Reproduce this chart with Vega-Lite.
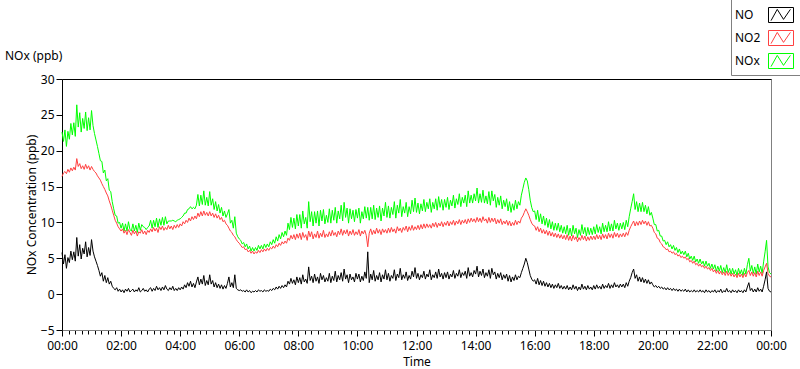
{
"$schema": "https://vega.github.io/schema/vega-lite/v6.json",
"width": 709,
"height": 251,
"autosize": {"type": "none"},
"padding": {"left": 62, "top": 79, "right": 29, "bottom": 39},
"background": "white",
"title": {"text": "NOx (ppb)", "anchor": "start", "frame": "group", "dx": -57, "dy": 77, "offset": 12, "fontSize": 12, "fontWeight": "normal", "font": "Noto Sans", "color": "#000000"},
"data": {"values": [
{"t":0,"NO":5.8,"NO2":16.4,"NOx":22.6},{"t":3,"NO":4.2,"NO2":16.9,"NOx":21.3},{"t":6,"NO":5.5,"NO2":17.1,"NOx":22.9},{"t":9,"NO":3.6,"NO2":16.8,"NOx":20.6},{"t":12,"NO":5.1,"NO2":17.4,"NOx":22.7},{"t":15,"NO":4.4,"NO2":17.0,"NOx":21.6},{"t":18,"NO":6.0,"NO2":17.6,"NOx":23.8},{"t":21,"NO":4.8,"NO2":17.2,"NOx":22.2},{"t":24,"NO":5.9,"NO2":17.7,"NOx":23.9},{"t":27,"NO":4.6,"NO2":17.3,"NOx":22.0},
{"t":30,"NO":7.9,"NO2":18.9,"NOx":26.4},{"t":33,"NO":5.3,"NO2":17.8,"NOx":23.3},{"t":36,"NO":6.9,"NO2":18.2,"NOx":25.3},{"t":39,"NO":4.9,"NO2":17.5,"NOx":22.6},{"t":42,"NO":6.4,"NO2":17.9,"NOx":24.5},{"t":45,"NO":5.6,"NO2":17.4,"NOx":23.1},{"t":48,"NO":7.3,"NO2":18.1,"NOx":25.4},{"t":51,"NO":5.2,"NO2":17.5,"NOx":22.8},{"t":54,"NO":6.5,"NO2":17.9,"NOx":24.6},{"t":57,"NO":5.4,"NO2":17.3,"NOx":22.9},
{"t":60,"NO":7.6,"NO2":17.8,"NOx":25.6},{"t":63,"NO":6.0,"NO2":17.4,"NOx":23.5},{"t":66,"NO":5.2,"NO2":17.1,"NOx":22.4},{"t":69,"NO":4.6,"NO2":16.9,"NOx":21.5},{"t":72,"NO":4.0,"NO2":16.5,"NOx":20.6},{"t":75,"NO":3.3,"NO2":16.2,"NOx":19.6},{"t":78,"NO":2.5,"NO2":15.9,"NOx":18.6},{"t":81,"NO":3.0,"NO2":15.4,"NOx":18.5},{"t":84,"NO":1.8,"NO2":15.0,"NOx":16.9},{"t":87,"NO":2.6,"NO2":14.6,"NOx":17.3},
{"t":90,"NO":1.6,"NO2":14.1,"NOx":15.8},{"t":93,"NO":2.3,"NO2":13.7,"NOx":16.1},{"t":96,"NO":1.4,"NO2":13.0,"NOx":14.5},{"t":99,"NO":1.8,"NO2":12.4,"NOx":14.3},{"t":102,"NO":1.1,"NO2":11.7,"NOx":12.9},{"t":105,"NO":0.8,"NO2":11.0,"NOx":11.9},{"t":108,"NO":0.6,"NO2":10.3,"NOx":11.0},{"t":111,"NO":0.9,"NO2":9.9,"NOx":10.9},{"t":114,"NO":0.4,"NO2":9.4,"NOx":9.9},{"t":117,"NO":0.7,"NO2":9.1,"NOx":10.0},
{"t":120,"NO":0.3,"NO2":8.8,"NOx":9.2},{"t":123,"NO":0.6,"NO2":9.1,"NOx":9.9},{"t":126,"NO":0.2,"NO2":8.5,"NOx":8.8},{"t":129,"NO":0.7,"NO2":8.9,"NOx":9.8},{"t":132,"NO":0.4,"NO2":8.3,"NOx":8.8},{"t":135,"NO":0.8,"NO2":9.0,"NOx":10.1},{"t":138,"NO":0.3,"NO2":8.6,"NOx":9.0},{"t":141,"NO":0.5,"NO2":8.2,"NOx":8.8},{"t":144,"NO":0.7,"NO2":8.9,"NOx":9.8},{"t":147,"NO":0.3,"NO2":8.4,"NOx":8.8},
{"t":150,"NO":0.6,"NO2":8.8,"NOx":9.6},{"t":153,"NO":0.4,"NO2":8.1,"NOx":8.6},{"t":156,"NO":0.9,"NO2":8.7,"NOx":9.9},{"t":159,"NO":0.3,"NO2":8.5,"NOx":8.9},{"t":162,"NO":0.5,"NO2":9.0,"NOx":9.7},{"t":165,"NO":0.8,"NO2":8.4,"NOx":9.4},{"t":168,"NO":0.4,"NO2":8.8,"NOx":9.3},{"t":171,"NO":0.6,"NO2":8.3,"NOx":9.0},{"t":174,"NO":0.3,"NO2":8.9,"NOx":9.3},{"t":177,"NO":0.7,"NO2":8.6,"NOx":9.5},
{"t":180,"NO":0.9,"NO2":9.1,"NOx":10.3},{"t":183,"NO":0.4,"NO2":8.7,"NOx":9.2},{"t":186,"NO":0.8,"NO2":9.3,"NOx":10.3},{"t":189,"NO":0.5,"NO2":8.8,"NOx":9.4},{"t":192,"NO":1.1,"NO2":9.2,"NOx":10.6},{"t":195,"NO":0.6,"NO2":8.6,"NOx":9.3},{"t":198,"NO":0.9,"NO2":9.4,"NOx":10.5},{"t":201,"NO":0.5,"NO2":9.0,"NOx":9.6},{"t":204,"NO":1.0,"NO2":9.5,"NOx":10.7},{"t":207,"NO":0.6,"NO2":8.9,"NOx":9.6},
{"t":210,"NO":1.2,"NO2":9.3,"NOx":10.8},{"t":213,"NO":0.7,"NO2":9.0,"NOx":9.8},{"t":216,"NO":0.5,"NO2":9.6,"NOx":10.2},{"t":219,"NO":0.9,"NO2":9.1,"NOx":10.2},{"t":222,"NO":0.6,"NO2":9.5,"NOx":10.2},{"t":225,"NO":1.1,"NO2":9.0,"NOx":10.3},{"t":228,"NO":0.5,"NO2":9.6,"NOx":10.2},{"t":231,"NO":0.8,"NO2":9.2,"NOx":10.1},{"t":234,"NO":0.5,"NO2":9.7,"NOx":10.3},{"t":237,"NO":0.9,"NO2":9.3,"NOx":10.4},
{"t":240,"NO":0.6,"NO2":9.8,"NOx":10.5},{"t":243,"NO":1.0,"NO2":9.5,"NOx":10.7},{"t":246,"NO":0.7,"NO2":10.1,"NOx":10.9},{"t":249,"NO":1.3,"NO2":9.8,"NOx":11.3},{"t":252,"NO":0.9,"NO2":10.3,"NOx":11.3},{"t":255,"NO":1.6,"NO2":10.0,"NOx":11.8},{"t":258,"NO":1.1,"NO2":10.6,"NOx":11.9},{"t":261,"NO":1.8,"NO2":10.2,"NOx":12.2},{"t":264,"NO":1.0,"NO2":10.8,"NOx":11.9},{"t":267,"NO":1.5,"NO2":10.4,"NOx":12.1},
{"t":270,"NO":0.9,"NO2":10.9,"NOx":11.9},{"t":273,"NO":1.7,"NO2":10.5,"NOx":12.4},{"t":276,"NO":2.4,"NO2":11.3,"NOx":13.9},{"t":279,"NO":1.3,"NO2":10.8,"NOx":12.3},{"t":282,"NO":2.1,"NO2":11.5,"NOx":13.8},{"t":285,"NO":1.4,"NO2":10.9,"NOx":12.5},{"t":288,"NO":2.6,"NO2":11.6,"NOx":14.4},{"t":291,"NO":1.2,"NO2":11.0,"NOx":12.4},{"t":294,"NO":1.9,"NO2":11.4,"NOx":13.5},{"t":297,"NO":1.3,"NO2":10.9,"NOx":12.3},
{"t":300,"NO":2.7,"NO2":11.5,"NOx":14.3},{"t":303,"NO":1.4,"NO2":10.9,"NOx":12.4},{"t":306,"NO":1.9,"NO2":11.3,"NOx":13.3},{"t":309,"NO":1.0,"NO2":10.7,"NOx":11.8},{"t":312,"NO":1.6,"NO2":11.2,"NOx":12.9},{"t":315,"NO":0.9,"NO2":10.6,"NOx":11.6},{"t":318,"NO":1.4,"NO2":11.0,"NOx":12.5},{"t":321,"NO":0.8,"NO2":10.4,"NOx":11.3},{"t":324,"NO":1.3,"NO2":10.7,"NOx":12.1},{"t":327,"NO":0.7,"NO2":10.1,"NOx":10.9},
{"t":330,"NO":1.2,"NO2":10.3,"NOx":11.6},{"t":333,"NO":0.8,"NO2":9.8,"NOx":10.7},{"t":336,"NO":1.5,"NO2":9.6,"NOx":11.2},{"t":339,"NO":2.4,"NO2":9.2,"NOx":11.8},{"t":342,"NO":1.0,"NO2":8.8,"NOx":9.9},{"t":345,"NO":1.6,"NO2":8.6,"NOx":10.3},{"t":348,"NO":0.9,"NO2":8.2,"NOx":9.2},{"t":351,"NO":2.7,"NO2":8.0,"NOx":10.8},{"t":354,"NO":0.8,"NO2":7.6,"NOx":8.5},{"t":357,"NO":0.6,"NO2":7.3,"NOx":8.0},
{"t":360,"NO":0.5,"NO2":7.1,"NOx":7.7},{"t":363,"NO":0.6,"NO2":6.8,"NOx":7.5},{"t":366,"NO":0.4,"NO2":6.5,"NOx":7.0},{"t":369,"NO":0.5,"NO2":6.6,"NOx":7.2},{"t":372,"NO":0.3,"NO2":6.2,"NOx":6.6},{"t":375,"NO":0.6,"NO2":6.3,"NOx":7.0},{"t":378,"NO":0.3,"NO2":5.9,"NOx":6.3},{"t":381,"NO":0.5,"NO2":6.1,"NOx":6.7},{"t":384,"NO":0.2,"NO2":5.7,"NOx":6.0},{"t":387,"NO":0.4,"NO2":6.0,"NOx":6.5},
{"t":390,"NO":0.3,"NO2":5.6,"NOx":6.0},{"t":393,"NO":0.5,"NO2":5.9,"NOx":6.5},{"t":396,"NO":0.3,"NO2":5.7,"NOx":6.1},{"t":399,"NO":0.6,"NO2":6.1,"NOx":6.8},{"t":402,"NO":0.4,"NO2":5.8,"NOx":6.3},{"t":405,"NO":0.5,"NO2":6.2,"NOx":6.8},{"t":408,"NO":0.3,"NO2":5.9,"NOx":6.3},{"t":411,"NO":0.6,"NO2":6.3,"NOx":7.0},{"t":414,"NO":0.4,"NO2":6.0,"NOx":6.5},{"t":417,"NO":0.5,"NO2":6.4,"NOx":7.0},
{"t":420,"NO":0.4,"NO2":6.1,"NOx":6.6},{"t":423,"NO":0.7,"NO2":6.5,"NOx":7.3},{"t":426,"NO":0.5,"NO2":6.3,"NOx":6.9},{"t":429,"NO":0.8,"NO2":6.7,"NOx":7.6},{"t":432,"NO":0.6,"NO2":6.4,"NOx":7.1},{"t":435,"NO":1.0,"NO2":6.9,"NOx":8.0},{"t":438,"NO":0.7,"NO2":6.6,"NOx":7.4},{"t":441,"NO":1.1,"NO2":7.1,"NOx":8.3},{"t":444,"NO":0.8,"NO2":6.8,"NOx":7.7},{"t":447,"NO":1.2,"NO2":7.3,"NOx":8.6},
{"t":450,"NO":0.9,"NO2":7.0,"NOx":8.0},{"t":453,"NO":1.3,"NO2":7.4,"NOx":8.8},{"t":456,"NO":1.0,"NO2":7.1,"NOx":8.2},{"t":459,"NO":1.8,"NO2":7.8,"NOx":9.9},{"t":462,"NO":1.4,"NO2":7.5,"NOx":9.0},{"t":465,"NO":2.2,"NO2":8.2,"NOx":10.7},{"t":468,"NO":1.5,"NO2":7.7,"NOx":9.3},{"t":471,"NO":2.0,"NO2":8.3,"NOx":10.6},{"t":474,"NO":1.3,"NO2":7.6,"NOx":9.1},{"t":477,"NO":2.4,"NO2":8.4,"NOx":11.1},
{"t":480,"NO":1.6,"NO2":7.8,"NOx":9.5},{"t":483,"NO":2.3,"NO2":8.5,"NOx":11.1},{"t":486,"NO":1.4,"NO2":7.6,"NOx":9.2},{"t":489,"NO":2.7,"NO2":8.6,"NOx":11.6},{"t":492,"NO":1.7,"NO2":7.9,"NOx":9.8},{"t":495,"NO":2.1,"NO2":8.3,"NOx":10.7},{"t":498,"NO":1.5,"NO2":7.5,"NOx":9.2},{"t":501,"NO":3.8,"NO2":8.8,"NOx":12.9},{"t":504,"NO":1.9,"NO2":8.0,"NOx":10.1},{"t":507,"NO":2.5,"NO2":8.7,"NOx":11.5},
{"t":510,"NO":1.6,"NO2":7.7,"NOx":9.5},{"t":513,"NO":2.8,"NO2":8.4,"NOx":11.5},{"t":516,"NO":1.8,"NO2":7.9,"NOx":9.9},{"t":519,"NO":2.4,"NO2":8.8,"NOx":11.6},{"t":522,"NO":1.5,"NO2":7.8,"NOx":9.5},{"t":525,"NO":2.9,"NO2":8.5,"NOx":11.7},{"t":528,"NO":2.0,"NO2":8.0,"NOx":10.2},{"t":531,"NO":2.6,"NO2":8.9,"NOx":11.8},{"t":534,"NO":1.7,"NO2":7.9,"NOx":9.8},{"t":537,"NO":2.3,"NO2":8.4,"NOx":11.0},
{"t":540,"NO":1.8,"NO2":8.0,"NOx":10.0},{"t":543,"NO":2.9,"NO2":8.7,"NOx":11.9},{"t":546,"NO":1.6,"NO2":8.1,"NOx":9.9},{"t":549,"NO":2.5,"NO2":8.9,"NOx":11.7},{"t":552,"NO":1.9,"NO2":8.2,"NOx":10.3},{"t":555,"NO":3.2,"NO2":8.6,"NOx":12.1},{"t":558,"NO":1.7,"NO2":8.0,"NOx":9.9},{"t":561,"NO":2.6,"NO2":8.8,"NOx":11.6},{"t":564,"NO":2.0,"NO2":8.3,"NOx":10.5},{"t":567,"NO":3.0,"NO2":9.1,"NOx":12.4},
{"t":570,"NO":1.8,"NO2":8.2,"NOx":10.2},{"t":573,"NO":3.5,"NO2":8.9,"NOx":12.8},{"t":576,"NO":2.1,"NO2":8.4,"NOx":10.7},{"t":579,"NO":2.7,"NO2":9.0,"NOx":12.0},{"t":582,"NO":1.6,"NO2":8.1,"NOx":9.9},{"t":585,"NO":2.8,"NO2":8.8,"NOx":11.9},{"t":588,"NO":2.0,"NO2":8.3,"NOx":10.5},{"t":591,"NO":2.4,"NO2":9.0,"NOx":11.7},{"t":594,"NO":1.7,"NO2":8.2,"NOx":10.1},{"t":597,"NO":2.9,"NO2":8.7,"NOx":11.8},
{"t":600,"NO":2.1,"NO2":8.3,"NOx":10.6},{"t":603,"NO":2.8,"NO2":9.0,"NOx":12.0},{"t":606,"NO":1.7,"NO2":8.1,"NOx":9.9},{"t":609,"NO":2.5,"NO2":8.8,"NOx":11.5},{"t":612,"NO":1.9,"NO2":8.4,"NOx":10.5},{"t":615,"NO":3.1,"NO2":8.9,"NOx":12.2},{"t":618,"NO":2.2,"NO2":8.2,"NOx":10.6},{"t":621,"NO":5.9,"NO2":6.6,"NOx":12.1},{"t":624,"NO":1.6,"NO2":8.5,"NOx":10.3},{"t":627,"NO":2.8,"NO2":9.1,"NOx":12.1},
{"t":630,"NO":2.0,"NO2":8.3,"NOx":10.5},{"t":633,"NO":3.3,"NO2":8.9,"NOx":12.4},{"t":636,"NO":1.8,"NO2":8.4,"NOx":10.4},{"t":639,"NO":2.6,"NO2":9.2,"NOx":12.0},{"t":642,"NO":2.0,"NO2":8.5,"NOx":10.7},{"t":645,"NO":3.0,"NO2":9.0,"NOx":12.3},{"t":648,"NO":1.7,"NO2":8.3,"NOx":10.2},{"t":651,"NO":2.7,"NO2":9.1,"NOx":12.0},{"t":654,"NO":2.1,"NO2":8.6,"NOx":10.9},{"t":657,"NO":3.4,"NO2":9.0,"NOx":12.8},
{"t":660,"NO":2.0,"NO2":8.5,"NOx":10.7},{"t":663,"NO":2.9,"NO2":9.2,"NOx":12.3},{"t":666,"NO":1.8,"NO2":8.6,"NOx":10.6},{"t":669,"NO":2.6,"NO2":9.3,"NOx":12.1},{"t":672,"NO":2.2,"NO2":8.7,"NOx":11.1},{"t":675,"NO":3.4,"NO2":9.1,"NOx":12.9},{"t":678,"NO":1.9,"NO2":8.5,"NOx":10.6},{"t":681,"NO":2.8,"NO2":9.4,"NOx":12.4},{"t":684,"NO":2.3,"NO2":8.8,"NOx":11.3},{"t":687,"NO":3.6,"NO2":9.2,"NOx":13.2},
{"t":690,"NO":2.0,"NO2":8.6,"NOx":10.8},{"t":693,"NO":2.7,"NO2":9.3,"NOx":12.2},{"t":696,"NO":2.2,"NO2":8.9,"NOx":11.3},{"t":699,"NO":3.1,"NO2":9.5,"NOx":12.8},{"t":702,"NO":1.9,"NO2":8.7,"NOx":10.8},{"t":705,"NO":2.6,"NO2":9.4,"NOx":12.2},{"t":708,"NO":2.1,"NO2":8.9,"NOx":11.2},{"t":711,"NO":3.2,"NO2":9.6,"NOx":13.1},{"t":714,"NO":2.4,"NO2":8.9,"NOx":11.5},{"t":717,"NO":3.7,"NO2":9.4,"NOx":13.4},
{"t":720,"NO":2.2,"NO2":9.0,"NOx":11.4},{"t":723,"NO":2.9,"NO2":9.6,"NOx":12.7},{"t":726,"NO":2.0,"NO2":9.0,"NOx":11.2},{"t":729,"NO":2.7,"NO2":9.7,"NOx":12.6},{"t":732,"NO":2.3,"NO2":9.1,"NOx":11.6},{"t":735,"NO":3.2,"NO2":9.8,"NOx":13.2},{"t":738,"NO":2.1,"NO2":9.2,"NOx":11.5},{"t":741,"NO":2.8,"NO2":9.8,"NOx":12.8},{"t":744,"NO":2.4,"NO2":9.3,"NOx":11.9},{"t":747,"NO":3.4,"NO2":9.7,"NOx":13.3},
{"t":750,"NO":2.0,"NO2":9.2,"NOx":11.4},{"t":753,"NO":2.7,"NO2":9.9,"NOx":12.8},{"t":756,"NO":2.3,"NO2":9.4,"NOx":11.9},{"t":759,"NO":3.1,"NO2":10.0,"NOx":13.3},{"t":762,"NO":2.2,"NO2":9.3,"NOx":11.7},{"t":765,"NO":3.5,"NO2":9.9,"NOx":13.6},{"t":768,"NO":2.4,"NO2":9.5,"NOx":12.1},{"t":771,"NO":2.9,"NO2":10.1,"NOx":13.2},{"t":774,"NO":2.1,"NO2":9.4,"NOx":11.7},{"t":777,"NO":3.0,"NO2":10.0,"NOx":13.2},
{"t":780,"NO":2.3,"NO2":9.6,"NOx":12.1},{"t":783,"NO":3.1,"NO2":10.2,"NOx":13.5},{"t":786,"NO":2.1,"NO2":9.5,"NOx":11.8},{"t":789,"NO":2.8,"NO2":10.1,"NOx":13.1},{"t":792,"NO":2.4,"NO2":9.7,"NOx":12.3},{"t":795,"NO":3.3,"NO2":10.3,"NOx":13.8},{"t":798,"NO":2.2,"NO2":9.6,"NOx":12.0},{"t":801,"NO":2.9,"NO2":10.2,"NOx":13.3},{"t":804,"NO":2.5,"NO2":9.8,"NOx":12.5},{"t":807,"NO":3.4,"NO2":10.4,"NOx":14.0},
{"t":810,"NO":2.3,"NO2":9.7,"NOx":12.2},{"t":813,"NO":3.0,"NO2":10.3,"NOx":13.5},{"t":816,"NO":2.6,"NO2":9.9,"NOx":12.7},{"t":819,"NO":3.2,"NO2":10.4,"NOx":13.8},{"t":822,"NO":2.2,"NO2":9.8,"NOx":12.2},{"t":825,"NO":3.7,"NO2":10.5,"NOx":14.4},{"t":828,"NO":2.5,"NO2":10.0,"NOx":12.7},{"t":831,"NO":3.0,"NO2":10.6,"NOx":13.8},{"t":834,"NO":2.4,"NO2":10.1,"NOx":12.7},{"t":837,"NO":3.3,"NO2":10.5,"NOx":14.0},
{"t":840,"NO":2.8,"NO2":10.0,"NOx":13.0},{"t":843,"NO":3.9,"NO2":10.7,"NOx":14.8},{"t":846,"NO":2.4,"NO2":10.1,"NOx":12.7},{"t":849,"NO":3.2,"NO2":10.6,"NOx":14.0},{"t":852,"NO":2.6,"NO2":10.0,"NOx":12.8},{"t":855,"NO":3.5,"NO2":10.8,"NOx":14.5},{"t":858,"NO":2.3,"NO2":10.2,"NOx":12.7},{"t":861,"NO":3.0,"NO2":10.5,"NOx":13.7},{"t":864,"NO":2.5,"NO2":9.9,"NOx":12.6},{"t":867,"NO":3.4,"NO2":10.7,"NOx":14.3},
{"t":870,"NO":2.2,"NO2":10.0,"NOx":12.4},{"t":873,"NO":3.6,"NO2":10.6,"NOx":14.4},{"t":876,"NO":2.7,"NO2":10.1,"NOx":13.0},{"t":879,"NO":3.1,"NO2":10.6,"NOx":13.9},{"t":882,"NO":2.1,"NO2":9.8,"NOx":12.1},{"t":885,"NO":2.9,"NO2":10.4,"NOx":13.5},{"t":888,"NO":2.3,"NO2":9.9,"NOx":12.4},{"t":891,"NO":3.0,"NO2":10.5,"NOx":13.7},{"t":894,"NO":2.0,"NO2":9.7,"NOx":11.9},{"t":897,"NO":2.7,"NO2":10.2,"NOx":13.1},
{"t":900,"NO":2.2,"NO2":9.8,"NOx":12.2},{"t":903,"NO":2.8,"NO2":10.3,"NOx":13.3},{"t":906,"NO":1.8,"NO2":9.6,"NOx":11.6},{"t":909,"NO":2.6,"NO2":10.2,"NOx":12.9},{"t":912,"NO":1.7,"NO2":9.5,"NOx":11.4},{"t":915,"NO":2.4,"NO2":10.0,"NOx":12.6},{"t":918,"NO":1.9,"NO2":9.6,"NOx":11.7},{"t":921,"NO":2.7,"NO2":10.3,"NOx":13.1},{"t":924,"NO":2.0,"NO2":9.7,"NOx":11.9},{"t":927,"NO":2.5,"NO2":10.2,"NOx":12.9},
{"t":930,"NO":2.3,"NO2":9.9,"NOx":12.4},{"t":933,"NO":3.0,"NO2":10.6,"NOx":13.8},{"t":936,"NO":3.6,"NO2":10.9,"NOx":14.7},{"t":939,"NO":4.2,"NO2":11.4,"NOx":15.6},{"t":942,"NO":5.0,"NO2":11.9,"NOx":16.2},{"t":945,"NO":4.4,"NO2":11.5,"NOx":15.8},{"t":948,"NO":3.5,"NO2":11.0,"NOx":14.6},{"t":951,"NO":2.6,"NO2":10.4,"NOx":13.1},{"t":954,"NO":2.1,"NO2":9.9,"NOx":12.1},{"t":957,"NO":1.8,"NO2":9.6,"NOx":11.5},
{"t":960,"NO":2.0,"NO2":9.5,"NOx":11.6},{"t":963,"NO":1.4,"NO2":8.9,"NOx":10.4},{"t":966,"NO":2.2,"NO2":9.4,"NOx":11.7},{"t":969,"NO":1.3,"NO2":8.7,"NOx":10.1},{"t":972,"NO":1.9,"NO2":9.2,"NOx":11.2},{"t":975,"NO":1.2,"NO2":8.5,"NOx":9.8},{"t":978,"NO":1.8,"NO2":9.0,"NOx":10.9},{"t":981,"NO":1.1,"NO2":8.4,"NOx":9.6},{"t":984,"NO":1.6,"NO2":8.9,"NOx":10.6},{"t":987,"NO":1.0,"NO2":8.2,"NOx":9.3},
{"t":990,"NO":1.5,"NO2":8.8,"NOx":10.4},{"t":993,"NO":0.9,"NO2":8.1,"NOx":9.1},{"t":996,"NO":1.4,"NO2":8.6,"NOx":10.1},{"t":999,"NO":0.8,"NO2":8.0,"NOx":8.9},{"t":1002,"NO":1.3,"NO2":8.5,"NOx":9.9},{"t":1005,"NO":0.9,"NO2":7.9,"NOx":8.9},{"t":1008,"NO":1.5,"NO2":8.4,"NOx":9.9},{"t":1011,"NO":0.8,"NO2":7.8,"NOx":8.7},{"t":1014,"NO":1.2,"NO2":8.3,"NOx":9.6},{"t":1017,"NO":0.7,"NO2":7.7,"NOx":8.5},
{"t":1020,"NO":1.1,"NO2":8.2,"NOx":9.4},{"t":1023,"NO":0.7,"NO2":7.6,"NOx":8.4},{"t":1026,"NO":1.2,"NO2":8.3,"NOx":9.6},{"t":1029,"NO":0.6,"NO2":7.5,"NOx":8.2},{"t":1032,"NO":1.0,"NO2":8.1,"NOx":9.2},{"t":1035,"NO":0.6,"NO2":7.4,"NOx":8.1},{"t":1038,"NO":1.3,"NO2":8.2,"NOx":9.6},{"t":1041,"NO":0.7,"NO2":7.6,"NOx":8.4},{"t":1044,"NO":1.1,"NO2":8.0,"NOx":9.2},{"t":1047,"NO":0.5,"NO2":7.3,"NOx":7.9},
{"t":1050,"NO":1.0,"NO2":7.9,"NOx":9.0},{"t":1053,"NO":0.6,"NO2":7.5,"NOx":8.2},{"t":1056,"NO":1.4,"NO2":8.2,"NOx":9.7},{"t":1059,"NO":0.7,"NO2":7.6,"NOx":8.4},{"t":1062,"NO":1.1,"NO2":8.1,"NOx":9.3},{"t":1065,"NO":0.6,"NO2":7.4,"NOx":8.1},{"t":1068,"NO":1.2,"NO2":8.0,"NOx":9.3},{"t":1071,"NO":0.7,"NO2":7.5,"NOx":8.3},{"t":1074,"NO":1.0,"NO2":8.1,"NOx":9.2},{"t":1077,"NO":0.6,"NO2":7.6,"NOx":8.3},
{"t":1080,"NO":1.2,"NO2":8.1,"NOx":9.4},{"t":1083,"NO":0.7,"NO2":7.6,"NOx":8.4},{"t":1086,"NO":1.3,"NO2":8.3,"NOx":9.7},{"t":1089,"NO":0.8,"NO2":7.7,"NOx":8.6},{"t":1092,"NO":1.1,"NO2":8.2,"NOx":9.4},{"t":1095,"NO":0.7,"NO2":7.6,"NOx":8.4},{"t":1098,"NO":1.4,"NO2":8.4,"NOx":9.9},{"t":1101,"NO":0.8,"NO2":7.8,"NOx":8.7},{"t":1104,"NO":1.2,"NO2":8.3,"NOx":9.6},{"t":1107,"NO":0.9,"NO2":7.7,"NOx":8.7},
{"t":1110,"NO":1.5,"NO2":8.5,"NOx":10.1},{"t":1113,"NO":0.8,"NO2":7.9,"NOx":8.8},{"t":1116,"NO":1.3,"NO2":8.4,"NOx":9.8},{"t":1119,"NO":0.9,"NO2":7.8,"NOx":8.8},{"t":1122,"NO":1.6,"NO2":8.6,"NOx":10.3},{"t":1125,"NO":1.0,"NO2":8.0,"NOx":9.1},{"t":1128,"NO":1.3,"NO2":8.5,"NOx":9.9},{"t":1131,"NO":0.9,"NO2":7.9,"NOx":8.9},{"t":1134,"NO":1.4,"NO2":8.4,"NOx":9.9},{"t":1137,"NO":1.0,"NO2":8.0,"NOx":9.1},
{"t":1140,"NO":1.4,"NO2":8.5,"NOx":10.0},{"t":1143,"NO":0.9,"NO2":8.0,"NOx":9.0},{"t":1146,"NO":1.6,"NO2":8.6,"NOx":10.3},{"t":1149,"NO":1.1,"NO2":8.2,"NOx":9.4},{"t":1152,"NO":1.8,"NO2":8.9,"NOx":10.8},{"t":1155,"NO":2.3,"NO2":9.4,"NOx":11.9},{"t":1158,"NO":3.0,"NO2":9.8,"NOx":12.9},{"t":1161,"NO":3.5,"NO2":10.2,"NOx":14.0},{"t":1164,"NO":2.2,"NO2":9.5,"NOx":11.8},{"t":1167,"NO":2.7,"NO2":10.1,"NOx":12.9},
{"t":1170,"NO":1.8,"NO2":9.6,"NOx":11.5},{"t":1173,"NO":2.4,"NO2":10.2,"NOx":12.7},{"t":1176,"NO":1.7,"NO2":9.7,"NOx":11.5},{"t":1179,"NO":2.3,"NO2":10.3,"NOx":12.8},{"t":1182,"NO":1.6,"NO2":9.8,"NOx":11.5},{"t":1185,"NO":2.1,"NO2":10.2,"NOx":12.4},{"t":1188,"NO":1.5,"NO2":9.6,"NOx":11.2},{"t":1191,"NO":2.0,"NO2":10.1,"NOx":12.2},{"t":1194,"NO":1.4,"NO2":9.5,"NOx":11.0},{"t":1197,"NO":1.7,"NO2":9.6,"NOx":11.4},
{"t":1200,"NO":1.3,"NO2":9.2,"NOx":10.6},{"t":1203,"NO":1.0,"NO2":8.6,"NOx":9.7},{"t":1206,"NO":1.2,"NO2":8.4,"NOx":9.7},{"t":1209,"NO":0.9,"NO2":7.8,"NOx":8.8},{"t":1212,"NO":1.1,"NO2":7.7,"NOx":8.9},{"t":1215,"NO":0.8,"NO2":7.2,"NOx":8.1},{"t":1218,"NO":1.0,"NO2":7.0,"NOx":8.1},{"t":1221,"NO":0.7,"NO2":6.6,"NOx":7.4},{"t":1224,"NO":0.9,"NO2":6.5,"NOx":7.5},{"t":1227,"NO":0.6,"NO2":6.2,"NOx":6.9},
{"t":1230,"NO":0.9,"NO2":6.3,"NOx":7.3},{"t":1233,"NO":0.6,"NO2":5.9,"NOx":6.6},{"t":1236,"NO":0.8,"NO2":6.0,"NOx":6.9},{"t":1239,"NO":0.5,"NO2":5.7,"NOx":6.3},{"t":1242,"NO":0.8,"NO2":5.9,"NOx":6.8},{"t":1245,"NO":0.5,"NO2":5.5,"NOx":6.1},{"t":1248,"NO":0.7,"NO2":5.7,"NOx":6.5},{"t":1251,"NO":0.4,"NO2":5.3,"NOx":5.8},{"t":1254,"NO":0.7,"NO2":5.5,"NOx":6.3},{"t":1257,"NO":0.4,"NO2":5.1,"NOx":5.6},
{"t":1260,"NO":0.6,"NO2":5.3,"NOx":6.0},{"t":1263,"NO":0.4,"NO2":5.0,"NOx":5.5},{"t":1266,"NO":0.7,"NO2":5.2,"NOx":6.0},{"t":1269,"NO":0.3,"NO2":4.8,"NOx":5.2},{"t":1272,"NO":0.6,"NO2":5.0,"NOx":5.7},{"t":1275,"NO":0.3,"NO2":4.5,"NOx":4.9},{"t":1278,"NO":0.5,"NO2":4.7,"NOx":5.3},{"t":1281,"NO":0.3,"NO2":4.3,"NOx":4.7},{"t":1284,"NO":0.6,"NO2":4.6,"NOx":5.3},{"t":1287,"NO":0.3,"NO2":4.1,"NOx":4.5},
{"t":1290,"NO":0.5,"NO2":4.3,"NOx":4.9},{"t":1293,"NO":0.3,"NO2":3.9,"NOx":4.3},{"t":1296,"NO":0.6,"NO2":4.2,"NOx":4.9},{"t":1299,"NO":0.3,"NO2":3.8,"NOx":4.2},{"t":1302,"NO":0.5,"NO2":4.0,"NOx":4.6},{"t":1305,"NO":0.2,"NO2":3.6,"NOx":3.9},{"t":1308,"NO":0.6,"NO2":3.9,"NOx":4.6},{"t":1311,"NO":0.3,"NO2":3.5,"NOx":3.9},{"t":1314,"NO":0.5,"NO2":3.7,"NOx":4.3},{"t":1317,"NO":0.2,"NO2":3.3,"NOx":3.6},
{"t":1320,"NO":0.5,"NO2":3.6,"NOx":4.2},{"t":1323,"NO":0.3,"NO2":3.1,"NOx":3.5},{"t":1326,"NO":0.6,"NO2":3.4,"NOx":4.1},{"t":1329,"NO":0.2,"NO2":2.9,"NOx":3.2},{"t":1332,"NO":0.5,"NO2":3.3,"NOx":3.9},{"t":1335,"NO":0.3,"NO2":2.8,"NOx":3.2},{"t":1338,"NO":0.7,"NO2":3.2,"NOx":4.0},{"t":1341,"NO":0.2,"NO2":2.7,"NOx":3.0},{"t":1344,"NO":0.5,"NO2":3.1,"NOx":3.7},{"t":1347,"NO":0.3,"NO2":2.6,"NOx":3.0},
{"t":1350,"NO":0.8,"NO2":3.2,"NOx":4.1},{"t":1353,"NO":0.3,"NO2":2.6,"NOx":3.0},{"t":1356,"NO":0.5,"NO2":3.0,"NOx":3.6},{"t":1359,"NO":0.2,"NO2":2.5,"NOx":2.8},{"t":1362,"NO":0.6,"NO2":2.9,"NOx":3.6},{"t":1365,"NO":0.3,"NO2":2.4,"NOx":2.8},{"t":1368,"NO":0.5,"NO2":2.8,"NOx":3.4},{"t":1371,"NO":0.2,"NO2":2.3,"NOx":2.6},{"t":1374,"NO":0.6,"NO2":2.9,"NOx":3.6},{"t":1377,"NO":0.3,"NO2":2.4,"NOx":2.8},
{"t":1380,"NO":0.5,"NO2":2.8,"NOx":3.4},{"t":1383,"NO":0.2,"NO2":2.3,"NOx":2.6},{"t":1386,"NO":0.6,"NO2":2.9,"NOx":3.6},{"t":1389,"NO":0.3,"NO2":2.4,"NOx":2.8},{"t":1392,"NO":1.0,"NO2":3.0,"NOx":4.1},{"t":1395,"NO":1.6,"NO2":3.3,"NOx":5.0},{"t":1398,"NO":0.5,"NO2":2.6,"NOx":3.2},{"t":1401,"NO":0.8,"NO2":3.1,"NOx":4.0},{"t":1404,"NO":0.3,"NO2":2.5,"NOx":2.9},{"t":1407,"NO":0.7,"NO2":3.0,"NOx":3.8},
{"t":1410,"NO":0.3,"NO2":2.4,"NOx":2.8},{"t":1413,"NO":0.9,"NO2":3.2,"NOx":4.2},{"t":1416,"NO":0.4,"NO2":2.6,"NOx":3.1},{"t":1419,"NO":0.7,"NO2":3.1,"NOx":3.9},{"t":1422,"NO":0.3,"NO2":2.5,"NOx":2.9},{"t":1425,"NO":1.1,"NO2":3.3,"NOx":4.5},{"t":1428,"NO":2.0,"NO2":3.8,"NOx":5.9},{"t":1431,"NO":3.1,"NO2":4.3,"NOx":7.5},{"t":1434,"NO":0.8,"NO2":2.9,"NOx":3.8},{"t":1437,"NO":0.4,"NO2":2.5,"NOx":3.0},
{"t":1440,"NO":0.3,"NO2":2.4,"NOx":2.8}
]},
"layer": [
{
"mark": {"type": "line", "strokeWidth": 1, "interpolate": "linear"},
"encoding": {
"x": {"field": "t", "type": "quantitative", "scale": {"domain": [0, 1440], "nice": false, "zero": false},
"axis": {"orient": "bottom", "title": "Time", "values": [0,13.333,26.667,40,53.333,66.667,80,93.333,106.667,120,133.333,146.667,160,173.333,186.667,200,213.333,226.667,240,253.333,266.667,280,293.333,306.667,320,333.333,346.667,360,373.333,386.667,400,413.333,426.667,440,453.333,466.667,480,493.333,506.667,520,533.333,546.667,560,573.333,586.667,600,613.333,626.667,640,653.333,666.667,680,693.333,706.667,720,733.333,746.667,760,773.333,786.667,800,813.333,826.667,840,853.333,866.667,880,893.333,906.667,920,933.333,946.667,960,973.333,986.667,1000,1013.333,1026.667,1040,1053.333,1066.667,1080,1093.333,1106.667,1120,1133.333,1146.667,1160,1173.333,1186.667,1200,1213.333,1226.667,1240,1253.333,1266.667,1280,1293.333,1306.667,1320,1333.333,1346.667,1360,1373.333,1386.667,1400,1413.333,1426.667,1440],
"labelExpr": "datum.value % 120 === 0 ? ((floor(datum.value/60)%24 < 10 ? '0' : '') + (floor(datum.value/60)%24) + ':00') : ''",
"tickSize": {"condition": {"test": "datum.value % 120 === 0", "value": 6}, "value": 4},
"domainColor": "#808080", "labelOverlap": false, "labelFlush": false, "labelPadding": 4, "titlePadding": 5}},
"y": {"field": "NOx", "type": "quantitative", "title": "NOx Concentration (ppb)", "scale": {"domain": [-5, 30], "nice": false, "zero": false}, "axis": {"values": [-5,0,5,10,15,20,25,30]}},
"color": {"datum": "NOx", "type": "nominal", "title": null, "scale": {"domain": ["NO", "NO2", "NOx"], "range": ["#000000", "#ff4040", "#00ff00"]},
"legend": {"orient": "none", "legendX": 669, "legendY": -81, "labelOffset": -59, "symbolOffset": 33}}
}
},
{
"mark": {"type": "line", "strokeWidth": 1, "interpolate": "linear"},
"encoding": {
"x": {"field": "t", "type": "quantitative", "scale": {"domain": [0, 1440], "nice": false, "zero": false},
"axis": {"orient": "top", "title": null, "labels": false, "ticks": false, "domainColor": "#000000"}},
"y": {"field": "NO2", "type": "quantitative", "title": "NOx Concentration (ppb)", "scale": {"domain": [-5, 30], "nice": false, "zero": false}, "axis": {"values": [-5,0,5,10,15,20,25,30]}},
"color": {"datum": "NO2", "type": "nominal", "title": null, "scale": {"domain": ["NO", "NO2", "NOx"], "range": ["#000000", "#ff4040", "#00ff00"]},
"legend": {"orient": "none", "legendX": 669, "legendY": -81, "labelOffset": -59, "symbolOffset": 33}}
}
},
{
"mark": {"type": "line", "strokeWidth": 1, "interpolate": "linear"},
"encoding": {
"x": {"field": "t", "type": "quantitative", "scale": {"domain": [0, 1440], "nice": false, "zero": false}, "axis": null},
"y": {"field": "NO", "type": "quantitative", "title": "NOx Concentration (ppb)", "scale": {"domain": [-5, 30], "nice": false, "zero": false}, "axis": {"values": [-5,0,5,10,15,20,25,30]}},
"color": {"datum": "NO", "type": "nominal", "title": null, "scale": {"domain": ["NO", "NO2", "NOx"], "range": ["#000000", "#ff4040", "#00ff00"]},
"legend": {"orient": "none", "legendX": 669, "legendY": -81, "labelOffset": -59, "symbolOffset": 33}}
}
}
],
"resolve": {"axis": {"x": "independent"}},
"config": {
"font": "Noto Sans",
"view": {"stroke": "#808080", "strokeWidth": 1},
"axis": {"labelFont": "Noto Sans", "labelFontSize": 12, "labelColor": "#000000", "titleFont": "Noto Sans", "titleFontSize": 12, "titleFontWeight": "normal", "titleColor": "#000000", "tickColor": "#000000", "domainColor": "#000000", "grid": false},
"axisY": {"tickSize": 6, "labelPadding": 2, "titlePadding": 2},
"legend": {"strokeColor": "#808080", "fillColor": "#ffffff", "padding": 4, "labelFont": "Noto Sans", "labelFontSize": 12, "labelColor": "#000000", "symbolType": "M-1,-0.6H1V0.6H-1Z M-0.8,0.45L-0.3,-0.45L0.2,0.35L0.75,-0.45", "symbolSize": 625, "symbolStrokeWidth": 1, "symbolFillColor": "transparent", "rowPadding": -4}
}
}
